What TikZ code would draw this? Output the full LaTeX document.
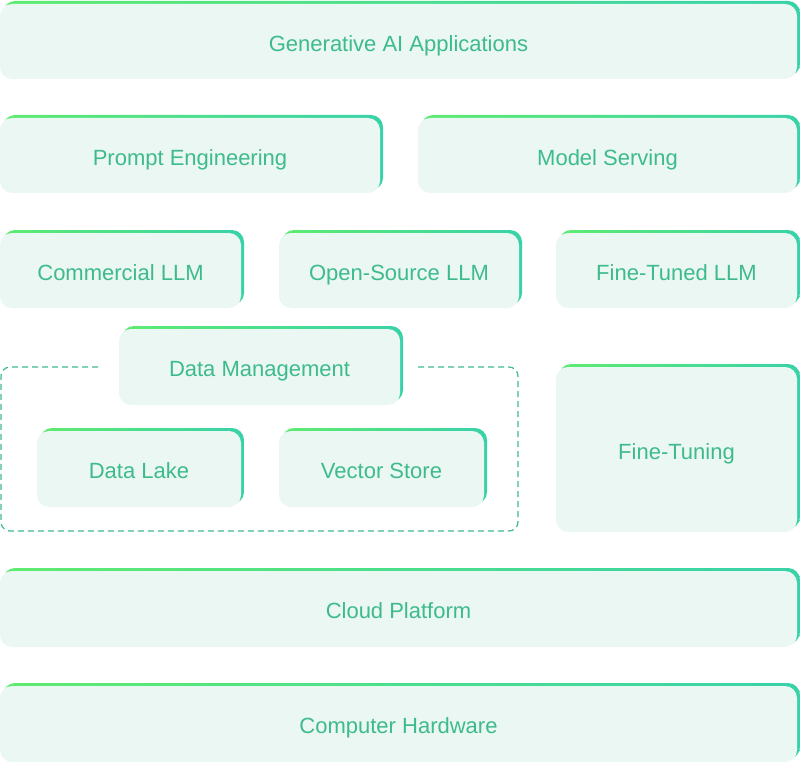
\documentclass[tikz,border=0pt]{standalone}
\usepackage{fontspec}
\setmainfont{Liberation Sans}
\usetikzlibrary{positioning, calc}

\definecolor{layerfill}{HTML}{EBF7F2}
\definecolor{layergreen}{HTML}{5EEB70}
\definecolor{layerteal}{HTML}{38D2A9}
\definecolor{layerink}{HTML}{3DBB8C}

\tikzset{
  layerlabel/.style={text=layerink, font=\fontsize{22}{26}\selectfont, text height=15.5pt, text depth=0pt, yshift=-2pt},
  layeredge/.style={left color=layergreen, right color=layerteal, rounded corners=12pt},
  layerbody/.style={fill=layerfill, rounded corners=12pt},
  dashbox/.style={draw=layerink, line width=1.2pt, dash pattern=on 6pt off 4pt, rounded corners=9pt},
}

% name, x0, y0, x1, y1, label
\newcommand{\layer}[6]{%
  \shade[layeredge] (#2+3,#3) rectangle (#4,#5-3);
  \fill[layerbody] (#2,#3+3) rectangle (#4-3,#5);
  \node[layerlabel] (#1) at ($(#2,#3+3)!0.5!(#4-3,#5)$) {#6};
}

\begin{document}
\begin{tikzpicture}[x=1pt, y=-1pt]
                \useasboundingbox (0,0) rectangle (800,762);
                \layer{apps}{0}{1}{800}{79}{Generative AI Applications}
                \layer{prompt}{0}{115}{383}{193}{Prompt Engineering}
                \layer{serving}{418}{115}{800}{193}{Model Serving}
                \layer{commercial}{0}{230}{244}{308}{Commercial LLM}
                \layer{opensource}{279}{230}{522}{308}{Open-Source LLM}
                \layer{finetuned}{556}{230}{800}{308}{Fine-Tuned LLM}
                % data block
                \draw[dashbox] (98,367) -- (1,367) -- (1,531) -- (518,531) -- (518,367) -- (417,367);
                \layer{datamgmt}{119}{326}{403}{405}{Data Management}
                \layer{datalake}{37}{428}{244}{507}{Data Lake}
                \layer{vector}{279}{428}{487}{507}{Vector Store}
                \layer{finetuning}{556}{364}{800}{532}{Fine-Tuning}
                % base layers
                \layer{cloud}{0}{568}{800}{647}{Cloud Platform}
                \layer{hardware}{0}{683}{800}{762}{Computer Hardware}
            \end{tikzpicture}
\end{document}
